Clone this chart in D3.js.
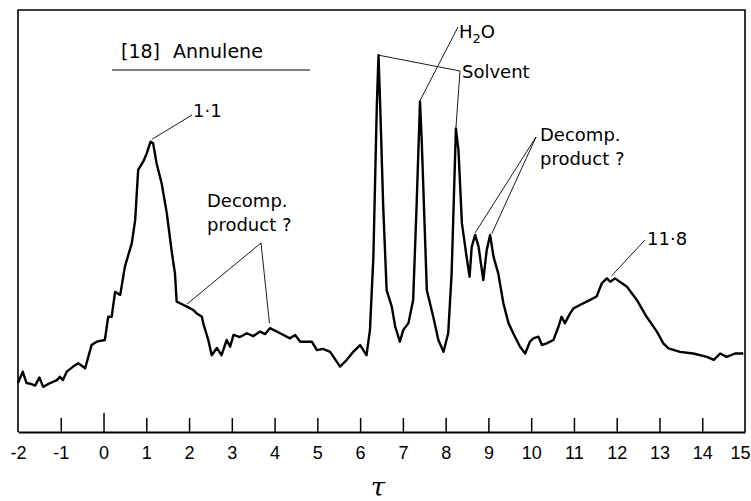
<!DOCTYPE html>
<html>
<head>
<meta charset="utf-8">
<script src="https://cdn.jsdelivr.net/npm/d3@7"></script>
<style>
  html, body { margin: 0; padding: 0; background: #fff; }
  svg { display: block; }
  text { font-family: "DejaVu Sans", sans-serif; fill: #000; }
</style>
</head>
<body>
<svg id="chart" width="751" height="501"></svg>
<script>
// chemical shift (tau) of each sampled point of the trace
const tau = [
  -2.00, -1.89, -1.80, -1.70, -1.60, -1.50, -1.41, -1.25, -1.09, -1.02, -0.95, -0.86, -0.71, -0.59, -0.43,
  -0.28, -0.16, 0.03, 0.11, 0.19, 0.27, 0.39, 0.50, 0.66, 0.74, 0.81, 0.93, 1.01, 1.10, 1.16,
  1.24, 1.36, 1.48, 1.59, 1.67, 1.71, 1.87, 1.95, 2.10, 2.18, 2.30, 2.33, 2.45, 2.53, 2.65,
  2.76, 2.88, 2.96, 3.04, 3.19, 3.35, 3.50, 3.66, 3.78, 3.89, 4.13, 4.36, 4.48, 4.60, 4.87,
  4.99, 5.13, 5.30, 5.53, 5.69, 5.84, 6.00, 6.15, 6.23, 6.31, 6.39, 6.43, 6.47, 6.54, 6.62,
  6.74, 6.82, 6.93, 7.01, 7.13, 7.24, 7.32, 7.40, 7.44, 7.56, 7.71, 7.83, 7.95, 8.06, 8.14,
  8.24, 8.30, 8.38, 8.49, 8.56, 8.61, 8.69, 8.77, 8.88, 8.96, 9.04, 9.12, 9.23, 9.35, 9.47,
  9.58, 9.74, 9.86, 9.97, 10.05, 10.17, 10.25, 10.36, 10.52, 10.64, 10.71, 10.79, 10.91, 10.99, 11.14,
  11.38, 11.53, 11.65, 11.77, 11.85, 11.96, 12.24, 12.47, 12.70, 12.94, 13.09, 13.21, 13.48, 13.79, 14.11,
  14.27, 14.42, 14.57, 14.77, 14.96
];
// signal intensity (arbitrary units, 0 = axis, 100 = top of frame)
const intensity = [
  11.6, 14.3, 11.6, 11.4, 11.0, 12.9, 10.7, 11.6, 12.3, 13.1, 12.3, 14.3, 15.5, 16.3, 15.1,
  20.6, 21.4, 21.8, 27.3, 27.3, 33.2, 32.5, 39.2, 44.7, 50.2, 62.1, 64.1, 66.0, 68.8, 68.4,
  63.7, 58.9, 51.8, 43.1, 37.6, 30.9, 30.1, 29.7, 28.9, 28.1, 27.3, 25.8, 21.8, 18.2, 19.9,
  18.2, 21.8, 20.2, 23.0, 22.5, 23.4, 22.7, 23.8, 23.2, 24.6, 23.4, 22.2, 23.0, 21.4, 21.4,
  19.4, 19.7, 19.0, 15.5, 17.1, 19.0, 20.6, 18.2, 24.2, 41.5, 77.1, 89.3, 77.1, 53.4, 33.6,
  29.7, 25.0, 21.4, 24.2, 25.8, 31.3, 53.4, 78.3, 69.2, 33.6, 27.3, 21.8, 19.0, 23.4, 37.6,
  71.9, 66.8, 49.5, 41.5, 36.8, 43.9, 46.7, 43.9, 36.0, 43.1, 46.7, 41.5, 37.6, 30.5, 25.8,
  23.4, 20.2, 18.6, 21.4, 22.2, 22.6, 20.6, 21.0, 21.8, 25.0, 27.3, 25.8, 28.1, 29.3, 30.1,
  31.3, 32.1, 35.2, 36.4, 35.6, 36.4, 34.4, 31.3, 27.3, 23.8, 21.0, 19.8, 19.0, 18.6, 17.8,
  17.1, 18.6, 17.8, 18.6, 18.6
];
const tickValues = [-2, -1, 0, 1, 2, 3, 4, 5, 6, 7, 8, 9, 10, 11, 12, 13, 14, 15];
const xTitle = "τ";
const chartTitle = ["[18]", "Annulene"];

// annotation labels: text lines, position of first line (px), leader polylines
// leader points: {px:[x,y]} in pixels or {d:[tau,intensity]} in data units
const annotations = [
  { lines: ["1·1"], x: 193, y: 117, leaders: [[{px:[192,115]}, {d:[1.14, 69.4]}]] },
  { lines: ["Decomp.", "product ?"], x: 207, y: 207,
    leaders: [[{d:[1.95, 30.3]}, {px:[261,243]}, {d:[3.88, 25.8]}]] },
  { lines: ["Solvent"], x: 462, y: 78,
    leaders: [[{d:[6.43, 89.3]}, {px:[460,71]}, {d:[8.24, 72.0]}]] },
  { lines: ["Decomp.", "product ?"], x: 540, y: 141,
    leaders: [[{d:[8.69, 47.2]}, {px:[536,137]}, {d:[9.08, 47.0]}]] },
  { lines: ["11·8"], x: 647, y: 245, leaders: [[{px:[645,240]}, {d:[11.88, 37.0]}]] }
];

const svg = d3.select("#chart");
const x = d3.scaleLinear().domain([-2, 15]).range([18, 745]);
const y = d3.scaleLinear().domain([0, 100]).range([432, 10]);

// frame
svg.append("path")
  .attr("d", `M${x(-2)},${y(0)}V${y(100)}H${x(15)}V${y(0)}`)
  .attr("fill", "none").attr("stroke", "#000").attr("stroke-width", 1.6);

// bottom axis
const axis = d3.axisBottom(x).tickValues(tickValues)
  .tickSize(0).tickPadding(0).tickFormat(d => d < 0 ? "-" + Math.abs(d) : String(d));
const gAxis = svg.append("g").attr("transform", `translate(0,${y(0)})`).call(axis);
gAxis.select(".domain").attr("stroke", "#000").attr("stroke-width", 2);
gAxis.selectAll(".tick line").remove();
gAxis.selectAll(".tick").filter(d => d > -2 && d < 15).append("line")
  .attr("y1", 0).attr("y2", d => d === 0 ? -19 : -14)
  .attr("stroke", "#000").attr("stroke-width", 1.5);
gAxis.selectAll(".tick text")
  .attr("y", 27).attr("dy", 0)
  .style("font-family", "'Liberation Sans', Arial, sans-serif")
  .style("font-size", "18px").attr("fill", "#000");
// keep the last label inside the picture, as in the reference
gAxis.selectAll(".tick").filter(d => d === 15).select("text")
  .attr("text-anchor", "end").attr("x", 750 - x(15));

// axis title
svg.append("text").attr("x", 378).attr("y", 496).attr("text-anchor", "middle")
  .style("font-family", "'DejaVu Serif', 'Liberation Serif', serif")
  .style("font-style", "italic").style("font-size", "26px").text(xTitle);

// chart title with underline
svg.append("text").attr("x", 121).attr("y", 58).style("font-size", "19px").text(chartTitle[0]);
svg.append("text").attr("x", 173).attr("y", 58).style("font-size", "19px").text(chartTitle[1]);
svg.append("line").attr("x1", 112).attr("x2", 310).attr("y1", 70).attr("y2", 70)
  .attr("stroke", "#000").attr("stroke-width", 1.2);

// spectrum trace
const data = tau.map((t, i) => [t, intensity[i]]);
svg.append("path").datum(data)
  .attr("d", d3.line().x(d => x(d[0])).y(d => y(d[1])))
  .attr("fill", "none").attr("stroke", "#000").attr("stroke-width", 2.4)
  .attr("stroke-linejoin", "round");

// H2O label with subscript
const h2o = svg.append("text").attr("x", 459).attr("y", 38).style("font-size", "18px");
h2o.append("tspan").text("H");
h2o.append("tspan").attr("dy", 5).style("font-size", "13px").text("2");
h2o.append("tspan").attr("dy", -5).text("O");
svg.append("line")
  .attr("x1", x(7.40)).attr("y1", y(78.5)).attr("x2", 458).attr("y2", 27)
  .attr("stroke", "#000").attr("stroke-width", 0.9);

// other annotations
const pt = p => p.px ? p.px : [x(p.d[0]), y(p.d[1])];
annotations.forEach(a => {
  a.lines.forEach((l, i) => {
    svg.append("text").attr("x", a.x).attr("y", a.y + i * 24)
      .style("font-size", "18px").text(l);
  });
  a.leaders.forEach(L => {
    svg.append("path").attr("d", d3.line()(L.map(pt)))
      .attr("fill", "none").attr("stroke", "#000").attr("stroke-width", 0.9);
  });
});
</script>
</body>
</html>
